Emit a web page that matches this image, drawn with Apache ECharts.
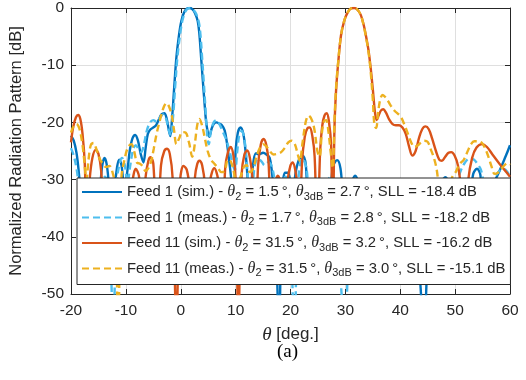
<!DOCTYPE html>
<html>
<head>
<meta charset="utf-8">
<script src="https://cdn.jsdelivr.net/npm/echarts@6/dist/echarts.min.js"></script>
<style>
  html, body { margin: 0; padding: 0; background: #fff; }
  #chart { width: 526px; height: 380px; }
</style>
</head>
<body>
<div id="chart"></div>
<script>
// [theta (deg), level (dB)]
const feed1Sim = [
  [-20,-22.3],[-19.5,-23.2],[-19,-25.3],[-18.6,-28.5],[-18.2,-33],[-17.6,-42],[-17,-36],[-16.4,-32],[-15.8,-31],[-15.2,-33],
  [-14.7,-31],[-14.3,-27.5],[-13.9,-26.2],[-13.5,-27.3],[-13.1,-31],[-12.6,-40],[-12.1,-32],[-11.6,-27.8],[-11.2,-26.5],[-10.8,-27.5],
  [-10.3,-31],[-9.8,-29],[-9.3,-25],[-8.8,-22.8],[-8.3,-22.2],[-7.8,-23.2],[-7.3,-25.5],[-6.8,-27],[-6.4,-24.5],[-6,-22],
  [-5.5,-21.2],[-5,-20.9],[-4.5,-20.5],[-4,-19.5],[-3.5,-18.6],[-3,-18.4],[-2.6,-19.2],[-2.2,-21.2],[-1.9,-22.4],[-1.6,-19.5],
  [-1.2,-14],[-0.8,-8.7],[-0.3,-4.6],[0.1,-2.3],[0.6,-0.8],[1.1,-0.1],[1.6,0],[2.1,-0.2],[2.6,-0.9],[3.1,-2.3],
  [3.4,-4.6],[3.7,-8.5],[4,-12.4],[4.3,-16.2],[4.6,-19.7],[4.9,-21.6],[5.2,-22.5],[5.6,-21.2],[6,-20.3],[6.5,-20],
  [7,-20.2],[7.5,-20.5],[8,-21.4],[8.4,-23.5],[8.8,-26.5],[9.2,-30],[9.6,-36],[10,-25],[10.4,-21.8],[10.9,-20.9],
  [11.4,-22],[11.8,-25],[12.2,-30],[12.6,-35],[13.1,-28],[13.7,-25.4],[14.3,-25.6],[15,-25.3],[15.6,-25.6],[16.2,-26.2],
  [16.7,-29.5],[17.2,-36],[17.9,-55],[18.5,-32],[19,-28.8],[19.5,-28.8],[20,-30.5],[20.4,-33],[20.9,-29],[21.5,-26.6],
  [22.2,-25.8],[22.8,-27.5],[23.4,-38],[24.2,-35],[25,-32],[25.8,-34],[26.6,-33],[27.3,-31],[27.8,-27.5],[28.5,-26.6],
  [29.1,-28],[29.6,-33],[30.3,-36],[31,-31],[31.8,-29.3],[32.4,-31],[33,-37],[34,-33],[35,-35],[36,-40],
  [37,-33],[38,-36],[39,-34],[40,-38],[41,-34],[42,-36],[43,-40],[44.3,-55],[45.3,-38],[46.3,-33],
  [47.2,-31],[48.2,-29.6],[49,-31],[49.8,-35],[50.6,-32],[51.5,-31],[52.5,-34],[53.3,-29],[54,-28.1],[54.6,-29.2],
  [55.2,-36],[56,-33],[56.8,-31],[57.6,-29.5],[58.4,-27.8],[59,-26.4],[59.6,-25],[60,-24]
];

const feed1Meas = [
  [-20,-24.5],[-19.5,-25.8],[-19,-28],[-18.6,-31],[-18,-36],[-17.2,-33],[-16.5,-31],[-15.8,-31.5],[-15.1,-34],[-14.4,-30.5],
  [-13.8,-29.5],[-13.2,-32],[-12.3,-55],[-11.6,-30],[-11.1,-27],[-10.7,-26.2],[-10.2,-27.5],[-9.7,-30.5],[-9.2,-27.5],[-8.7,-24.8],
  [-8.2,-24],[-7.7,-24.6],[-7.2,-25.2],[-6.7,-23.8],[-6.2,-21.5],[-5.6,-20],[-5,-19.6],[-4.4,-19.9],[-3.8,-19.2],[-3.2,-18.6],
  [-2.7,-19.3],[-2.2,-21.3],[-1.8,-22.3],[-1.4,-19],[-1,-13.5],[-0.6,-8.5],[-0.1,-4.5],[0.3,-2.2],[0.8,-0.7],[1.3,-0.1],
  [1.8,0],[2.3,-0.3],[2.8,-1],[3.3,-2.5],[3.6,-4.8],[3.9,-8.8],[4.2,-13],[4.5,-17.5],[4.8,-22],[5.1,-23.8],
  [5.5,-21.5],[6,-20],[6.5,-19.6],[7,-20.2],[7.6,-21.5],[8.2,-22.8],[8.6,-24],[9.1,-25.8],[9.5,-27.5],[9.9,-28.2],
  [10.3,-25],[10.7,-22],[11.1,-21.5],[11.6,-23],[12,-26.5],[12.4,-31],[12.9,-32],[13.5,-27.5],[14.1,-26.3],[14.7,-26.8],
  [15.3,-27.5],[15.9,-27],[16.5,-27.5],[17.1,-30],[17.7,-34],[18.4,-31],[19.1,-29.5],[19.7,-31],[20.7,-55],[21.5,-29],
  [22.2,-26.3],[22.9,-28],[23.6,-34],[24.5,-32],[25.5,-35],[26.5,-31],[27.3,-29.5],[28,-31],[29.9,-55],[31,-33],
  [32,-31],[33,-35],[34,-32],[35.5,-36],[37,-33],[38.5,-36],[40,-33],[41.5,-38],[43,-34],[44.5,-37],
  [46,-33],[47,-31],[48,-31.5],[49,-34],[50,-31.5],[51,-28.5],[51.8,-27],[52.6,-26.3],[53.4,-26.5],[54.1,-27.3],
  [54.7,-28.3],[55.3,-31],[56,-34],[56.8,-31],[57.6,-29],[58.4,-28.3],[59,-28.2],[59.6,-28.8],[60,-29.5]
];

const feed11Sim = [
  [-20,-23.5],[-19.6,-20.8],[-19.1,-19.1],[-18.7,-18.7],[-18.3,-19.4],[-17.9,-22],[-17.5,-27],[-17.1,-38],[-16.6,-30],[-16.1,-26.2],
  [-15.5,-24.8],[-15,-25.5],[-14.5,-28.5],[-14,-38],[-13.4,-33],[-12.8,-31.5],[-12.2,-33.5],[-11.6,-42],[-11,-34],[-10.5,-32.5],
  [-10,-34],[-9.4,-40],[-8.8,-30.5],[-8.2,-28.1],[-7.6,-29.5],[-7,-40],[-6.4,-29.5],[-5.9,-26.7],[-5.5,-26.1],[-5,-27.2],
  [-4.3,-40],[-3.6,-27.5],[-3,-25],[-2.5,-24.6],[-2,-25.5],[-1.5,-29.5],[-0.8,-55],[-0.1,-30],[0.5,-27.6],[1.1,-28.3],
  [1.7,-32],[2.1,-38],[2.6,-29.5],[3,-27.3],[3.4,-26.7],[3.9,-27.5],[4.4,-31],[4.8,-40],[5.4,-30],[6.1,-28],
  [6.8,-30],[7.5,-42],[8.1,-28],[8.6,-25.2],[9.1,-24.3],[9.6,-25.8],[10,-30],[10.5,-55],[11.1,-29],[11.6,-25.6],
  [12.1,-24.9],[12.6,-26.2],[13.1,-30],[13.6,-40],[14.1,-27.5],[14.6,-23.8],[15.1,-22.9],[15.6,-24],[16,-27],[16.5,-38],
  [17.1,-31],[17.7,-29.3],[18.2,-31],[18.8,-40],[19.5,-30],[20,-27.5],[20.4,-27],[20.9,-28.5],[21.3,-32],[21.6,-40],
  [22.1,-27],[22.6,-22.5],[23.1,-21],[23.5,-20.9],[24,-22.5],[24.4,-26],[24.9,-40],[25.4,-25],[25.8,-20.5],[26.2,-18.8],
  [26.6,-18.4],[27,-19.8],[27.4,-24],[27.7,-40],[28,-21.5],[28.3,-14.5],[28.7,-9.5],[29.2,-4.8],[29.8,-2.2],[30.4,-0.8],
  [31,-0.1],[31.6,0],[32.2,-0.3],[32.8,-1.2],[33.3,-2.8],[33.7,-4.6],[34.2,-7.3],[34.6,-10.4],[35,-14.2],[35.4,-18.3],
  [35.7,-19.6],[36.1,-18.7],[36.5,-17.9],[36.9,-17.7],[37.4,-18.3],[38,-19.5],[38.6,-20.3],[39.2,-20.5],[39.8,-20.5],[40.4,-20.9],
  [41,-22],[41.6,-24.2],[42.2,-25.8],[42.8,-25],[43.4,-22.8],[44,-21.2],[44.6,-20.7],[45.2,-21.2],[45.8,-22.8],[46.5,-25],
  [47.1,-26.5],[47.6,-26.7],[48.2,-26],[48.8,-25.3],[49.3,-25.2],[49.9,-25.8],[50.5,-27.5],[51,-31],[51.7,-40],[52.4,-30],
  [53.1,-26.2],[53.9,-24.4],[54.9,-23.8],[55.8,-24.3],[56.8,-25.6],[57.9,-27],[59,-28.3],[60,-29.5]
];

const feed11Meas = [
  [-20,-21.8],[-19.5,-20.6],[-19,-20.3],[-18.5,-21],[-18,-23.3],[-17.6,-26.5],[-17.2,-30],[-16.8,-26.5],[-16.4,-24],[-15.9,-23.6],
  [-15.4,-24.6],[-14.8,-26.3],[-14.2,-27.2],[-13.6,-27.8],[-13,-27.6],[-12.5,-28.5],[-12,-31],[-11.4,-55],[-10.8,-29.5],[-10.2,-26.3],
  [-9.6,-24.3],[-9,-23.8],[-8.5,-25],[-8,-27],[-7.5,-27.2],[-7,-27.6],[-6.4,-28.5],[-5.9,-28],[-5.4,-26.8],[-4.9,-24.5],
  [-4.4,-22],[-3.9,-20],[-3.4,-18.2],[-3,-17.1],[-2.6,-16.6],[-2.1,-17.3],[-1.6,-19],[-1.2,-21.5],[-0.8,-23.8],[-0.3,-22.8],
  [0.3,-21.7],[0.9,-21.8],[1.5,-23.5],[2.1,-26],[2.6,-23.5],[3,-20.5],[3.4,-19.4],[3.9,-20.6],[4.4,-22.8],[4.9,-25],
  [5.5,-26.5],[6.1,-27.2],[6.8,-28],[7.4,-28.7],[8,-28.5],[8.6,-26.5],[9.1,-26.8],[9.6,-28.3],[10.2,-31],[10.9,-29.5],
  [11.5,-27.8],[12,-27.5],[12.6,-28.7],[13.2,-28],[13.8,-26],[14.4,-24.5],[15,-23.8],[15.6,-24.2],[16.2,-25],[16.9,-25.6],
  [17.6,-25.5],[18.3,-25.2],[19,-24.4],[19.6,-23.5],[20.2,-23.2],[20.8,-23.8],[21.3,-25.5],[21.7,-26.8],[22.2,-23.5],[22.8,-19.8],
  [23.3,-18.8],[23.9,-19.6],[24.4,-21.5],[24.9,-25],[25.3,-26],[25.7,-22],[26.1,-19.8],[26.5,-19.6],[26.9,-21.5],[27.3,-25],
  [27.7,-28],[28,-20],[28.3,-14],[28.7,-9.3],[29.2,-4.8],[29.8,-2.2],[30.4,-0.8],[31,-0.1],[31.6,0],[32.2,-0.3],
  [32.8,-1.2],[33.3,-2.9],[33.7,-4.8],[34.2,-7.6],[34.6,-11],[35,-16],[35.3,-20.5],[35.6,-21],[36,-18],[36.4,-15.8],
  [36.8,-15.2],[37.3,-15.6],[37.8,-16.3],[38.3,-17.1],[39,-18],[39.6,-18.5],[40.1,-19],[40.8,-20.5],[41.4,-22],[42,-23.5],
  [42.6,-24.3],[43.2,-24],[43.8,-23.5],[44.4,-23.2],[45,-23.4],[45.6,-24.8],[46.1,-26.1],[46.6,-28],[47.2,-32],[48,-34],
  [48.8,-31.5],[49.5,-29.5],[50.1,-28.7],[50.8,-27.3],[51.6,-26.5],[52.3,-25],[52.9,-23.8],[53.5,-23.3],[54.2,-23.3],[54.9,-23.6],
  [55.5,-24.6],[56.1,-26.1],[56.6,-27.6],[57.2,-29],[57.8,-28.8],[58.5,-28],[59.2,-27.3],[59.6,-27.1],[60,-27.4]
];

const seriesNames = ['Feed 1 (sim.)', 'Feed 1 (meas.)', 'Feed 11 (sim.)', 'Feed 11 (meas.)'];
const theta2 = ['1.5', '1.7', '31.5', '31.5'];
const theta3dB = ['2.7', '2.8', '3.2', '3.0'];
const sll = ['-18.4', '-18.2', '-16.2', '-15.1'];
const xTicks = { min: -20, max: 60, step: 10 };
const yTicks = { min: -50, max: 0, step: 10 };

const axisColor = '#262626';
const gridColor = '#dfdfdf';
const sans = 'Liberation Sans, Arial, sans-serif';
const serif = 'Liberation Serif, Times New Roman, serif';

const chart = echarts.init(document.getElementById('chart'), null, { renderer: 'canvas' });

const lineSeries = (name, data, color, dashed) => ({
    name,
    type: 'line',
    data,
    xAxisIndex: 0,
    yAxisIndex: 0,
    symbol: 'none',
    smooth: 0.35,
    clip: true,
    lineStyle: { color, width: 2.4, type: dashed ? [7, 4] : 'solid' },
    itemStyle: { color },
    emphasis: { disabled: true },
});

const legendLabel = {};
seriesNames.forEach((n, i) => {
    legendLabel[n] = n + ' - {th|θ}{sub|2} = ' + theta2[i] + '\u2009°, {th|θ}{sub|3dB} = ' +
        theta3dB[i] + '\u2009°, SLL = ' + sll[i] + ' dB';
});

const baseX = {
    type: 'value',
    min: xTicks.min,
    max: xTicks.max,
    interval: xTicks.step,
    axisLine: { show: true, onZero: false, lineStyle: { color: axisColor, width: 1 } },
    axisTick: { show: true, inside: true, length: 5, lineStyle: { color: axisColor } },
};
const baseY = {
    type: 'value',
    min: yTicks.min,
    max: yTicks.max,
    interval: yTicks.step,
    axisLine: { show: true, onZero: false, lineStyle: { color: axisColor, width: 1 } },
    axisTick: { show: true, inside: true, length: 5, lineStyle: { color: axisColor } },
};

chart.setOption({
    animation: false,
    backgroundColor: '#fff',
    title: {
        text: '(a)',
        left: 277,
        top: 343,
        padding: 0,
        textStyle: { fontFamily: serif, fontSize: 19, fontWeight: 'normal', color: '#000' },
    },
    grid: { left: 69, right: 16, top: 6, bottom: 86 },
    xAxis: [
        {
            ...baseX,
            position: 'bottom',
            axisLabel: { fontFamily: sans, fontSize: 15.5, color: axisColor, margin: 9 },
            splitLine: { show: true, lineStyle: { color: gridColor, width: 1 } },
            name: '{th|θ} [deg.]',
            nameLocation: 'middle',
            nameGap: 31,
            nameTextStyle: {
                fontFamily: sans,
                fontSize: 17,
                color: axisColor,
                rich: { th: { fontFamily: serif, fontStyle: 'italic', fontSize: 19, color: axisColor } },
            },
        },
        { ...baseX, position: 'top', axisLabel: { show: false }, splitLine: { show: false } },
    ],
    yAxis: [
        {
            ...baseY,
            position: 'left',
            axisLabel: { fontFamily: sans, fontSize: 15.5, color: axisColor, margin: 7 },
            splitLine: { show: true, lineStyle: { color: gridColor, width: 1 } },
            name: 'Normalized Radiation Pattern [dB]',
            nameLocation: 'middle',
            nameGap: 46,
            nameTextStyle: { fontFamily: sans, fontSize: 16.5, color: axisColor },
        },
        { ...baseY, position: 'right', axisLabel: { show: false }, splitLine: { show: false } },
    ],
    legend: {
        data: seriesNames,
        orient: 'vertical',
        left: 77,
        top: 178,
        itemWidth: 40,
        itemHeight: 12,
        itemGap: 7.5,
        padding: [6, 5, 6, 4],
        backgroundColor: '#fff',
        borderColor: axisColor,
        borderWidth: 1,
        borderRadius: 0,
        selectedMode: false,
        itemStyle: { opacity: 0 },
        formatter: name => legendLabel[name],
        textStyle: {
            fontFamily: sans,
            fontSize: 14.8,
            color: axisColor,
            rich: {
                th: { fontFamily: serif, fontStyle: 'italic', fontSize: 16, color: axisColor },
                sub: { fontFamily: sans, fontSize: 11, color: axisColor, padding: [9, 0, 0, 0] },
            },
        },
    },
    series: [
        lineSeries(seriesNames[0], feed1Sim, '#0072BD', false),
        lineSeries(seriesNames[1], feed1Meas, '#4DBEEE', true),
        lineSeries(seriesNames[2], feed11Sim, '#D95319', false),
        lineSeries(seriesNames[3], feed11Meas, '#EDB120', true),
    ],
});
</script>
</body>
</html>
